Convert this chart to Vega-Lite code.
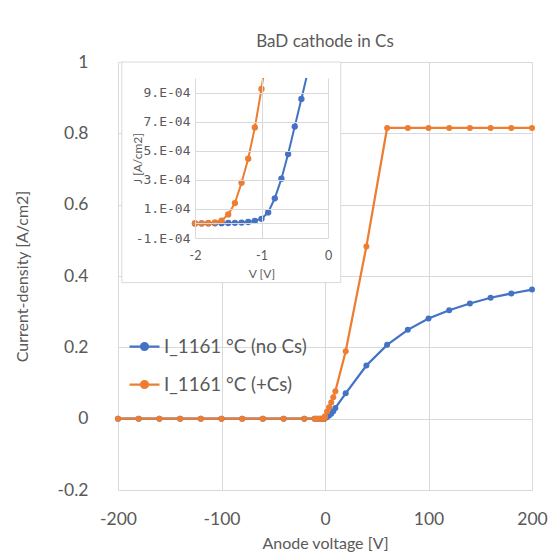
{
  "$schema": "https://vega.github.io/schema/vega-lite/v6.json",
  "width": 414,
  "height": 428,
  "autosize": {"type": "none"},
  "padding": {"left": 118, "top": 62, "right": 20, "bottom": 66},
  "background": "white",
  "title": {"text": "BaD cathode in Cs", "fontSize": 17, "font": "Lato", "fontWeight": "normal", "color": "#595959", "anchor": "middle", "frame": "group", "baseline": "alphabetic", "offset": 15, "dy": 26},
  "config": {
    "view": {"stroke": null},
    "axis": {"labelFont": "Lato", "titleFont": "Lato", "labelColor": "#595959", "titleColor": "#595959", "titleFontWeight": "normal", "gridColor": "#D9D9D9", "gridWidth": 1, "gridOpacity": 1, "labelFlush": false, "labelOverlap": false}
  },
  "datasets": {
    "iv": [
      {"s": "I_1161 °C (no Cs)", "V": -200, "J": 0},
      {"s": "I_1161 °C (no Cs)", "V": -180, "J": 0},
      {"s": "I_1161 °C (no Cs)", "V": -160, "J": 0},
      {"s": "I_1161 °C (no Cs)", "V": -140, "J": 0},
      {"s": "I_1161 °C (no Cs)", "V": -120, "J": 0},
      {"s": "I_1161 °C (no Cs)", "V": -100, "J": 0},
      {"s": "I_1161 °C (no Cs)", "V": -80, "J": 0},
      {"s": "I_1161 °C (no Cs)", "V": -60, "J": 0},
      {"s": "I_1161 °C (no Cs)", "V": -40, "J": 0},
      {"s": "I_1161 °C (no Cs)", "V": -20, "J": 0},
      {"s": "I_1161 °C (no Cs)", "V": -10, "J": 0},
      {"s": "I_1161 °C (no Cs)", "V": -8, "J": 0},
      {"s": "I_1161 °C (no Cs)", "V": -6, "J": 0},
      {"s": "I_1161 °C (no Cs)", "V": -4, "J": 0},
      {"s": "I_1161 °C (no Cs)", "V": -2.0, "J": 0},
      {"s": "I_1161 °C (no Cs)", "V": -1.9, "J": 0},
      {"s": "I_1161 °C (no Cs)", "V": -1.8, "J": 0},
      {"s": "I_1161 °C (no Cs)", "V": -1.7, "J": 0.000001},
      {"s": "I_1161 °C (no Cs)", "V": -1.6, "J": 0.000002},
      {"s": "I_1161 °C (no Cs)", "V": -1.5, "J": 0.000003},
      {"s": "I_1161 °C (no Cs)", "V": -1.4, "J": 0.000004},
      {"s": "I_1161 °C (no Cs)", "V": -1.3, "J": 0.000006},
      {"s": "I_1161 °C (no Cs)", "V": -1.2, "J": 0.00001},
      {"s": "I_1161 °C (no Cs)", "V": -1.1, "J": 0.000018},
      {"s": "I_1161 °C (no Cs)", "V": -1.0, "J": 0.000032},
      {"s": "I_1161 °C (no Cs)", "V": -0.9, "J": 0.000076},
      {"s": "I_1161 °C (no Cs)", "V": -0.8, "J": 0.000173},
      {"s": "I_1161 °C (no Cs)", "V": -0.7, "J": 0.000308},
      {"s": "I_1161 °C (no Cs)", "V": -0.6, "J": 0.000477},
      {"s": "I_1161 °C (no Cs)", "V": -0.5, "J": 0.000666},
      {"s": "I_1161 °C (no Cs)", "V": -0.4, "J": 0.000856},
      {"s": "I_1161 °C (no Cs)", "V": -0.3, "J": 0.00105},
      {"s": "I_1161 °C (no Cs)", "V": -0.2, "J": 0.0013},
      {"s": "I_1161 °C (no Cs)", "V": -0.1, "J": 0.0016},
      {"s": "I_1161 °C (no Cs)", "V": 0, "J": 0.002},
      {"s": "I_1161 °C (no Cs)", "V": 2, "J": 0.005},
      {"s": "I_1161 °C (no Cs)", "V": 4, "J": 0.009},
      {"s": "I_1161 °C (no Cs)", "V": 6, "J": 0.014},
      {"s": "I_1161 °C (no Cs)", "V": 8, "J": 0.021},
      {"s": "I_1161 °C (no Cs)", "V": 10, "J": 0.03},
      {"s": "I_1161 °C (no Cs)", "V": 20, "J": 0.071},
      {"s": "I_1161 °C (no Cs)", "V": 40, "J": 0.149},
      {"s": "I_1161 °C (no Cs)", "V": 60, "J": 0.207},
      {"s": "I_1161 °C (no Cs)", "V": 80, "J": 0.249},
      {"s": "I_1161 °C (no Cs)", "V": 100, "J": 0.281},
      {"s": "I_1161 °C (no Cs)", "V": 120, "J": 0.304},
      {"s": "I_1161 °C (no Cs)", "V": 140, "J": 0.323},
      {"s": "I_1161 °C (no Cs)", "V": 160, "J": 0.339},
      {"s": "I_1161 °C (no Cs)", "V": 180, "J": 0.351},
      {"s": "I_1161 °C (no Cs)", "V": 200, "J": 0.362},
      {"s": "I_1161 °C (+Cs)", "V": -200, "J": 0},
      {"s": "I_1161 °C (+Cs)", "V": -180, "J": 0},
      {"s": "I_1161 °C (+Cs)", "V": -160, "J": 0},
      {"s": "I_1161 °C (+Cs)", "V": -140, "J": 0},
      {"s": "I_1161 °C (+Cs)", "V": -120, "J": 0},
      {"s": "I_1161 °C (+Cs)", "V": -100, "J": 0},
      {"s": "I_1161 °C (+Cs)", "V": -80, "J": 0},
      {"s": "I_1161 °C (+Cs)", "V": -60, "J": 0},
      {"s": "I_1161 °C (+Cs)", "V": -40, "J": 0},
      {"s": "I_1161 °C (+Cs)", "V": -20, "J": 0},
      {"s": "I_1161 °C (+Cs)", "V": -10, "J": 0},
      {"s": "I_1161 °C (+Cs)", "V": -8, "J": 0},
      {"s": "I_1161 °C (+Cs)", "V": -6, "J": 0},
      {"s": "I_1161 °C (+Cs)", "V": -4, "J": 0},
      {"s": "I_1161 °C (+Cs)", "V": -2.0, "J": 0},
      {"s": "I_1161 °C (+Cs)", "V": -1.9, "J": 0.000001},
      {"s": "I_1161 °C (+Cs)", "V": -1.8, "J": 0.000003},
      {"s": "I_1161 °C (+Cs)", "V": -1.7, "J": 0.000008},
      {"s": "I_1161 °C (+Cs)", "V": -1.6, "J": 0.00002},
      {"s": "I_1161 °C (+Cs)", "V": -1.5, "J": 0.000062},
      {"s": "I_1161 °C (+Cs)", "V": -1.4, "J": 0.00014},
      {"s": "I_1161 °C (+Cs)", "V": -1.3, "J": 0.00028},
      {"s": "I_1161 °C (+Cs)", "V": -1.2, "J": 0.000445},
      {"s": "I_1161 °C (+Cs)", "V": -1.1, "J": 0.00066},
      {"s": "I_1161 °C (+Cs)", "V": -1.0, "J": 0.000925},
      {"s": "I_1161 °C (+Cs)", "V": -0.9, "J": 0.00125},
      {"s": "I_1161 °C (+Cs)", "V": -0.8, "J": 0.0016},
      {"s": "I_1161 °C (+Cs)", "V": -0.6, "J": 0.0025},
      {"s": "I_1161 °C (+Cs)", "V": -0.4, "J": 0.0036},
      {"s": "I_1161 °C (+Cs)", "V": -0.2, "J": 0.005},
      {"s": "I_1161 °C (+Cs)", "V": 0, "J": 0.007},
      {"s": "I_1161 °C (+Cs)", "V": 2, "J": 0.02},
      {"s": "I_1161 °C (+Cs)", "V": 4, "J": 0.032},
      {"s": "I_1161 °C (+Cs)", "V": 6, "J": 0.045},
      {"s": "I_1161 °C (+Cs)", "V": 8, "J": 0.06},
      {"s": "I_1161 °C (+Cs)", "V": 10, "J": 0.077},
      {"s": "I_1161 °C (+Cs)", "V": 20, "J": 0.189},
      {"s": "I_1161 °C (+Cs)", "V": 40, "J": 0.483},
      {"s": "I_1161 °C (+Cs)", "V": 60, "J": 0.815},
      {"s": "I_1161 °C (+Cs)", "V": 80, "J": 0.815},
      {"s": "I_1161 °C (+Cs)", "V": 100, "J": 0.815},
      {"s": "I_1161 °C (+Cs)", "V": 120, "J": 0.815},
      {"s": "I_1161 °C (+Cs)", "V": 140, "J": 0.815},
      {"s": "I_1161 °C (+Cs)", "V": 160, "J": 0.815},
      {"s": "I_1161 °C (+Cs)", "V": 180, "J": 0.815},
      {"s": "I_1161 °C (+Cs)", "V": 200, "J": 0.815}
    ]
  },
  "resolve": {"scale": {"x": "independent", "y": "independent"}},
  "layer": [
    {
      "data": {"values": [{}]},
      "mark": {"type": "rect", "fill": "white", "strokeWidth": 0},
      "encoding": {
        "x": {"datum": -196.3, "type": "quantitative", "scale": {"domain": [-200, 200], "nice": false, "zero": false}, "axis": null},
        "x2": {"datum": 15.2},
        "y": {"datum": 0.3815, "type": "quantitative", "scale": {"domain": [-0.2, 1], "nice": false, "zero": false}, "axis": null},
        "y2": {"datum": 1}
      }
    },
    {
      "data": {"name": "iv"},
      "encoding": {
        "x": {"field": "V", "type": "quantitative", "scale": {"domain": [-200, 200], "nice": false, "zero": false},
          "axis": {"orient": "bottom", "values": [-200, -100, 0, 100, 200], "labelExpr": "'' + datum.value", "domain": false, "ticks": false, "tickSize": 0, "labelPadding": 20, "grid": true, "title": "Anode voltage [V]", "titlePadding": 8, "labelFontSize": 17.5, "titleFontSize": 16}},
        "y": {"field": "J", "type": "quantitative", "scale": {"domain": [-0.2, 1], "nice": false, "zero": false},
          "axis": {"orient": "left", "values": [-0.2, 0, 0.2, 0.4, 0.6, 0.8, 1], "labelExpr": "'' + datum.value", "domain": false, "ticks": false, "tickSize": 0, "labelPadding": 30, "grid": true, "title": "Current-density [A/cm2]", "titlePadding": 27, "labelFontSize": 17.5, "titleFontSize": 16}},
        "color": {"field": "s", "type": "nominal",
          "scale": {"domain": ["I_1161 °C (no Cs)", "I_1161 °C (+Cs)"], "range": ["#4472C4", "#ED7D31"]},
          "legend": {"title": null, "orient": "none", "legendX": 10, "legendY": 268, "padding": 0,
            "symbolType": "M-1,0L1,0M-0.23,0A0.23,0.23,0,1,1,0.23,0A0.23,0.23,0,1,1,-0.23,0Z",
            "symbolSize": 900, "symbolStrokeWidth": 2.25, "labelFontSize": 18.7, "labelFont": "Lato", "labelColor": "#595959", "labelOffset": 3, "rowPadding": 11,
            "encode": {"symbols": {"update": {"fill": {"scale": "color", "field": "value"}, "stroke": {"scale": "color", "field": "value"}, "opacity": {"value": 1}, "fillOpacity": {"value": 1}}}}}}
      },
      "layer": [
        {"mark": {"type": "line", "strokeWidth": 2.25}},
        {"mark": {"type": "point", "filled": true, "size": 36, "opacity": 1}}
      ]
    },
    {
      "data": {"name": "iv"},
      "transform": [{"filter": "datum.V >= -2 && datum.V <= 0"}],
      "encoding": {
        "x": {"field": "V", "type": "quantitative", "scale": {"domain": [-2, 0], "range": [77, 210], "nice": false, "zero": false},
          "axis": {"orient": "bottom", "offset": -252, "values": [-2, -1, 0], "labelExpr": "'' + datum.value", "domain": false, "ticks": false, "tickSize": 0, "labelPadding": 11, "grid": false, "zindex": 1, "title": "V [V]", "titlePadding": 7, "labelFontSize": 12.5, "titleFontSize": 12}},
        "y": {"field": "J", "type": "quantitative", "scale": {"domain": [-0.0001, 0.001], "range": [176, 16], "nice": false, "zero": false},
          "axis": {"orient": "left", "offset": -77, "values": [-0.0001, 0, 0.0001, 0.0003, 0.0005, 0.0007, 0.0009], "labelExpr": "datum.value == 0 ? '' : round(datum.value * 10000) + '.E-04'", "domain": false, "ticks": false, "tickSize": 0, "labelPadding": 5, "grid": true, "zindex": 1, "title": "J [A/cm2]", "titlePadding": -9, "labelFont": "DejaVu Sans Mono", "labelFontSize": 13, "titleFontSize": 12}},
        "color": {"field": "s", "type": "nominal"}
      },
      "layer": [
        {"mark": {"type": "line", "strokeWidth": 2, "clip": true}},
        {"mark": {"type": "point", "filled": true, "size": 40, "opacity": 1, "clip": true}}
      ]
    },
    {
      "data": {"values": [{}]},
      "mark": {"type": "rect", "fill": "white", "strokeWidth": 0, "clip": true},
      "encoding": {
        "x": {"datum": -2, "type": "quantitative", "scale": {"domain": [-2, 0], "range": [77, 210], "nice": false, "zero": false},
          "axis": {"orient": "top", "values": [-2, -1, 0], "grid": true, "labels": false, "domain": false, "ticks": false, "tickSize": 0, "title": null, "zindex": 1}},
        "x2": {"datum": 0},
        "y": {"datum": 0.001, "type": "quantitative", "scale": {"domain": [-0.0001, 0.001], "range": [176, 16], "nice": false, "zero": false}, "axis": null},
        "y2": {"datum": 0.00111}
      }
    },
    {
      "data": {"values": [{}]},
      "mark": {"type": "rect", "fill": null, "fillOpacity": 0, "stroke": "#D9D9D9", "strokeWidth": 1},
      "encoding": {
        "x": {"datum": -196.3, "type": "quantitative", "scale": {"domain": [-200, 200], "nice": false, "zero": false}, "axis": null},
        "x2": {"datum": 15.2},
        "y": {"datum": 0.3815, "type": "quantitative", "scale": {"domain": [-0.2, 1], "nice": false, "zero": false}, "axis": null},
        "y2": {"datum": 1}
      }
    }
  ]
}
